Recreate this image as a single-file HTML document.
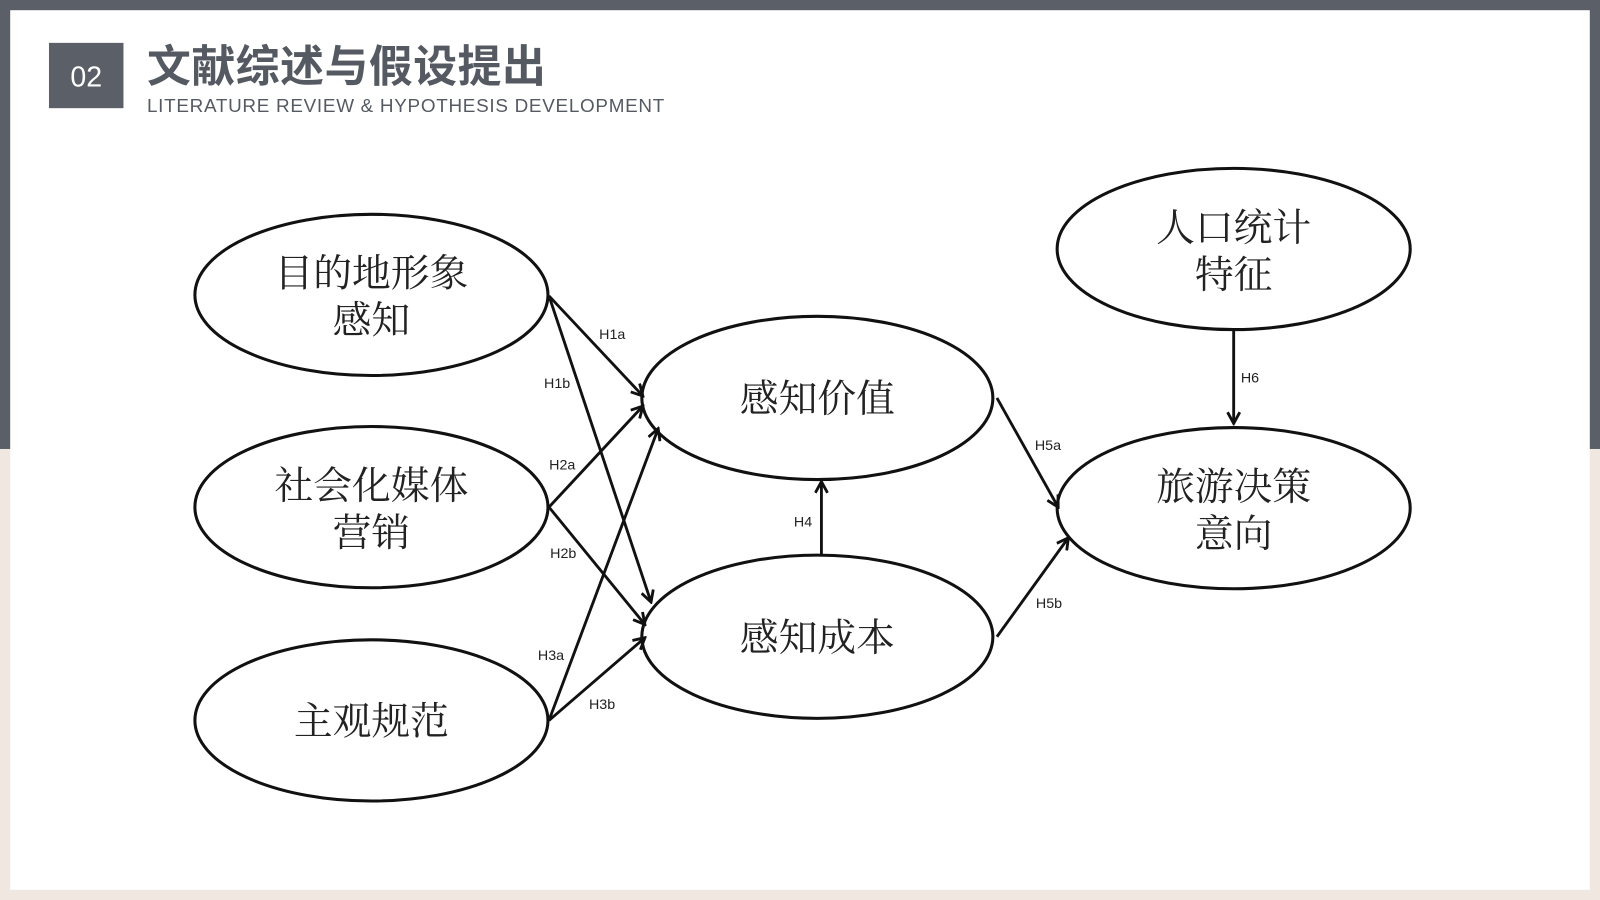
<!DOCTYPE html>
<html><head><meta charset="utf-8"><style>
html,body{margin:0;padding:0;width:1600px;height:900px;overflow:hidden;background:#fff}
svg{display:block}
</style></head><body>
<svg width="1600" height="900" viewBox="0 0 1568 882" xmlns="http://www.w3.org/2000/svg">
<defs>
<marker id="a" markerWidth="14" markerHeight="14" refX="12" refY="7" orient="auto" markerUnits="userSpaceOnUse">
<path d="M1,1 L12,7 L1,13" fill="none" stroke="#111" stroke-width="2.8"/>
</marker>
</defs>
<rect x="0" y="0" width="1568" height="882" fill="#efe7e0"/>
<rect x="0" y="0" width="1568" height="440" fill="#5b5f67"/>
<rect x="10" y="10" width="1548" height="862" fill="#fff"/>
<rect x="48" y="42" width="73" height="64" fill="#5b5f67"/>
<text x="84.5" y="85" font-family="Liberation Sans, sans-serif" font-size="28" fill="#fff" text-anchor="middle">02</text>
<text x="144" y="80" font-family="'Liberation Sans','Noto Sans CJK SC',sans-serif" font-size="43" font-weight="bold" fill="#555a62" textLength="391">文献综述与假设提出</text>
<text x="144" y="110" font-family="Liberation Sans, sans-serif" font-size="18.5" fill="#555a62" textLength="507">LITERATURE REVIEW &amp; HYPOTHESIS DEVELOPMENT</text>
<g fill="none" stroke="#111" stroke-width="3">
<ellipse cx="364" cy="289" rx="173" ry="79"/>
<ellipse cx="364" cy="497" rx="173" ry="79"/>
<ellipse cx="364" cy="706" rx="173" ry="79"/>
<ellipse cx="801" cy="390" rx="172" ry="80"/>
<ellipse cx="801" cy="624" rx="172" ry="80"/>
<ellipse cx="1209" cy="244" rx="173" ry="79"/>
<ellipse cx="1209" cy="498" rx="173" ry="79"/>
</g>
<g stroke="#111" stroke-width="2.8" fill="none" marker-end="url(#a)">
<line x1="538" y1="290" x2="630" y2="388"/>
<line x1="538" y1="290" x2="638" y2="590"/>
<line x1="538" y1="497" x2="630" y2="398"/>
<line x1="538" y1="497" x2="632" y2="612"/>
<line x1="538" y1="706" x2="645" y2="420"/>
<line x1="538" y1="706" x2="632" y2="625"/>
<line x1="805" y1="545" x2="805" y2="472"/>
<line x1="977" y1="390" x2="1037" y2="497"/>
<line x1="977" y1="624" x2="1047" y2="527"/>
<line x1="1209" y1="323" x2="1209" y2="415"/>
</g>
<g font-family="Liberation Sans, sans-serif" font-size="14" fill="#222" text-anchor="middle">
<text x="600" y="332">H1a</text>
<text x="546" y="380">H1b</text>
<text x="551" y="460">H2a</text>
<text x="552" y="547">H2b</text>
<text x="540" y="647">H3a</text>
<text x="590" y="695">H3b</text>
<text x="787" y="516">H4</text>
<text x="1027" y="441">H5a</text>
<text x="1028" y="596">H5b</text>
<text x="1225" y="375">H6</text>
</g>
<g font-family="'Liberation Serif','Noto Serif CJK SC',serif" font-size="38" fill="#222" text-anchor="middle">
<text x="364" y="281">目的地形象</text>
<text x="364" y="327">感知</text>
<text x="364" y="489">社会化媒体</text>
<text x="364" y="535">营销</text>
<text x="364" y="720">主观规范</text>
<text x="801" y="404">感知价值</text>
<text x="801" y="638">感知成本</text>
<text x="1209" y="236">人口统计</text>
<text x="1209" y="282">特征</text>
<text x="1209" y="490">旅游决策</text>
<text x="1209" y="536">意向</text>
</g>
</svg>
</body></html>
